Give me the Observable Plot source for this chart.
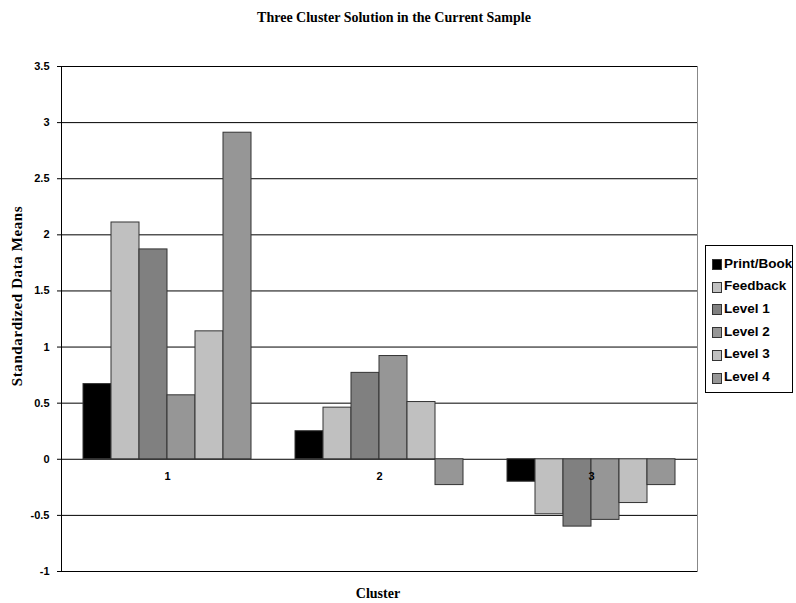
<!DOCTYPE html>
<html><head><meta charset="utf-8">
<script src="https://cdn.jsdelivr.net/npm/d3@7"></script>
<script src="https://cdn.jsdelivr.net/npm/@observablehq/plot@0.6"></script>
<style>
body{margin:0;background:#fff;}
#wrap{position:relative;width:796px;height:603px;overflow:hidden;background:#fff;}
#wrap svg{position:absolute;left:0;top:0;}
.title{position:absolute;left:0;top:10px;width:788px;text-align:center;font:bold 14px "Liberation Serif","Times New Roman",serif;color:#000;}
.ylab{position:absolute;left:17px;top:296px;transform:translate(-50%,-50%) rotate(-90deg);white-space:nowrap;font:bold 15px "Liberation Serif","Times New Roman",serif;letter-spacing:0.6px;color:#000;}
.xlab{position:absolute;left:378px;top:594px;transform:translate(-50%,-50%);white-space:nowrap;font:bold 14px "Liberation Serif","Times New Roman",serif;color:#000;}
.legend{position:absolute;left:705px;top:245px;width:86px;height:146px;border:1px solid #000;background:#fff;}
.item{position:absolute;left:6px;height:16px;display:flex;align-items:center;white-space:nowrap;font:bold 13.5px "Liberation Sans",Arial,sans-serif;color:#000;}
.sw{width:8px;height:9px;border:1px solid #333;margin-right:2px;margin-top:3px;}
</style></head><body>
<div id="wrap"></div>
<script>
const clusters = ["1", "2", "3"];
const seriesNames = ["Print/Book", "Feedback", "Level 1", "Level 2", "Level 3", "Level 4"];
const printBook = [0.67, 0.25, -0.20];
const feedback = [2.11, 0.46, -0.49];
const level1 = [1.87, 0.77, -0.60];
const level2 = [0.57, 0.92, -0.54];
const level3 = [1.14, 0.51, -0.39];
const level4 = [2.91, -0.23, -0.23];
const seriesColors = ["#000000", "#c0c0c0", "#808080", "#969696", "#c0c0c0", "#969696"];
const yTicks = [-1, -0.5, 0, 0.5, 1, 1.5, 2, 2.5, 3, 3.5];
const yTickLabels = ["-1", "-0.5", "0", "0.5", "1", "1.5", "2", "2.5", "3", "3.5"];
const titleText = "Three Cluster Solution in the Current Sample";
const yLabelText = "Standardized Data Means";
const xLabelText = "Cluster";

const valuesBySeries = [printBook, feedback, level1, level2, level3, level4];
const data = clusters.flatMap((c, i) => seriesNames.map((s, j) => ({cluster: c, series: s, value: valuesBySeries[j][i]})));

const plot = Plot.plot({
  width: 796, height: 603,
  marginTop: 66, marginBottom: 32, marginLeft: 60, marginRight: 99,
  style: {fontFamily: "'Liberation Sans', Arial, sans-serif", background: "transparent", overflow: "visible"},
  fx: {domain: clusters, padding: 0, axis: null},
  x: {domain: seriesNames, paddingInner: 0, paddingOuter: 0.72, axis: null},
  y: {domain: [-1, 3.5], axis: null},
  color: {domain: seriesNames, range: seriesColors},
  marks: [
    Plot.ruleY(yTicks, {stroke: "#000", strokeWidth: 1}),
    Plot.barY(data, {fx: "cluster", x: "series", y: "value", fill: "series", stroke: "#333", strokeWidth: 1, inset: 0}),
    Plot.text(clusters, {fx: d => d, y: () => 0, text: d => d, dy: 17, fontWeight: "bold", fontSize: 11, fill: "#000"}),
    Plot.axisY({ticks: yTicks, tickFormat: d => yTickLabels[yTicks.indexOf(d)], tickSize: 4, tickPadding: 8, fontSize: 11, fontWeight: "bold", label: null, stroke: "#000", fill: "#000"}),
    Plot.frame({anchor: "left", facetAnchor: "left", stroke: "#000"}),
    Plot.frame({anchor: "right", facetAnchor: "right", stroke: "#888"})
  ]
});

const wrap = document.getElementById("wrap");
wrap.appendChild(plot);

const t = document.createElement("div"); t.className = "title"; t.textContent = titleText; wrap.appendChild(t);
const yl = document.createElement("div"); yl.className = "ylab"; yl.textContent = yLabelText; wrap.appendChild(yl);
const xl = document.createElement("div"); xl.className = "xlab"; xl.textContent = xLabelText; wrap.appendChild(xl);

const lg = document.createElement("div"); lg.className = "legend";
seriesNames.forEach((s, i) => {
  const it = document.createElement("div"); it.className = "item";
  it.style.top = (9 + i * 22.7) + "px";
  const sw = document.createElement("div"); sw.className = "sw"; sw.style.background = plot.scale("color").apply(s);
  const tx = document.createElement("span"); tx.textContent = s;
  it.appendChild(sw); it.appendChild(tx); lg.appendChild(it);
});
wrap.appendChild(lg);
</script>
</body></html>
